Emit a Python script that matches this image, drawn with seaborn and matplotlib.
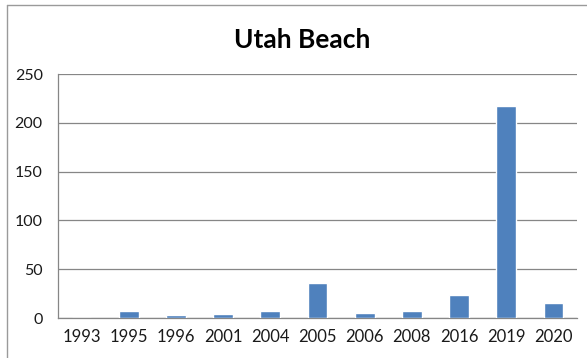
import matplotlib
matplotlib.use("Agg")
import matplotlib.pyplot as plt
import seaborn as sns
import pandas as pd
from matplotlib.lines import Line2D

years = ["1993", "1995", "1996", "2001", "2004", "2005", "2006", "2008", "2016", "2019", "2020"]
counts = [0, 7, 3, 4, 7, 36, 5, 7, 24, 217, 15]
yticks = [0, 50, 100, 150, 200, 250]

sns.set_theme(style="white")
plt.rcParams['font.family'] = ['Lato', 'DejaVu Sans']

df = pd.DataFrame({"year": years, "count": counts})

fig = plt.figure(figsize=(5.87, 3.58), dpi=100)
ax = fig.add_axes([58/587, 1 - 318/358, (577-58)/587, (318-74)/358])

sns.barplot(data=df, x="year", y="count", color="#4F81BD", width=0.42,
            saturation=1, ax=ax, zorder=3)

ax.set_ylim(0, 250)
ax.set_xlim(-0.5, len(years) - 0.5)
ax.set_yticks(yticks)
ax.set_yticklabels([str(v) for v in yticks], fontsize=11.5)
ax.grid(axis="y", color="#868686", linewidth=0.9, zorder=0)
ax.set_xlabel("")
ax.set_ylabel("")

for s in ["top", "right"]:
    ax.spines[s].set_visible(False)
for s in ["left", "bottom"]:
    ax.spines[s].set_color("#868686")
    ax.spines[s].set_linewidth(0.9)

ax.tick_params(axis="y", which="major", length=5, color="#868686", direction="out", pad=6, labelcolor="#1a1a1a")
ax.tick_params(axis="x", which="major", length=0, pad=8, labelsize=12, labelcolor="#1a1a1a")
ax.set_xticks([i + 0.5 for i in range(-1, len(years))], minor=True)
ax.tick_params(axis="x", which="minor", length=5, color="#868686", direction="out", width=0.9)

fig.text(302/587, 1 - 40/358, "Utah Beach", ha="center", va="center",
         fontsize=19, fontweight="bold", color="#000000")

# outer chart frame (left and top edges visible)
fig.add_artist(Line2D([7/587, 7/587], [0, 1 - 5/358], transform=fig.transFigure,
                      color="#9a9a9a", linewidth=1))
fig.add_artist(Line2D([7/587, 1], [1 - 5/358, 1 - 5/358], transform=fig.transFigure,
                      color="#9a9a9a", linewidth=1))

fig.savefig("out.png", dpi=100)
